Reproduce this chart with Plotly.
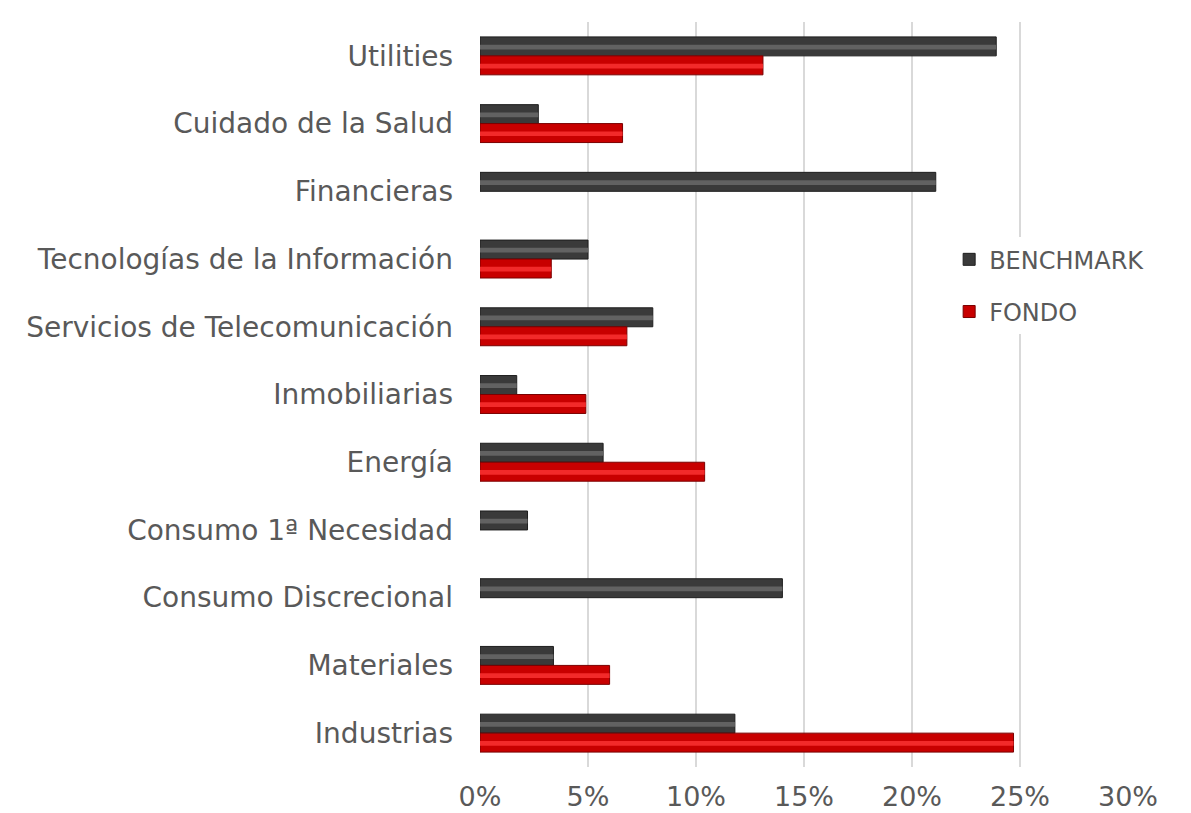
import plotly.graph_objects as go

categories = ["Industrias", "Materiales", "Consumo Discrecional", "Consumo 1ª Necesidad",
              "Energía", "Inmobiliarias", "Servicios de Telecomunicación",
              "Tecnologías de la Información", "Financieras", "Cuidado de la Salud", "Utilities"]
benchmark = [0.118, 0.034, 0.140, 0.022, 0.057, 0.017, 0.080, 0.050, 0.211, 0.027, 0.239]
fondo = [0.247, 0.060, None, None, 0.104, 0.049, 0.068, 0.033, None, 0.066, 0.131]

W = 0.28
fig = go.Figure()
fig.add_trace(go.Bar(y=categories, x=benchmark, orientation="h", name="BENCHMARK", legendgroup="b",
                     width=W, offset=0,
                     marker=dict(color="#3a3a3a", line=dict(color="#1e1e1e", width=1))))
fig.add_trace(go.Bar(y=categories, x=fondo, orientation="h", name="FONDO", legendgroup="f",
                     width=W, offset=-W,
                     marker=dict(color="#c80000", line=dict(color="#7a0000", width=1))))
# bevel highlight stripes
fig.add_trace(go.Bar(y=categories, x=benchmark, orientation="h", showlegend=False, hoverinfo="skip",
                     width=0.07, offset=0.095,
                     marker=dict(color="#626262", line=dict(width=0))))
fig.add_trace(go.Bar(y=categories, x=fondo, orientation="h", showlegend=False, hoverinfo="skip",
                     width=0.07, offset=-W + 0.095,
                     marker=dict(color="#f22a2a", line=dict(width=0))))

fig.update_layout(
    width=1183, height=805,
    barmode="overlay",
    paper_bgcolor="white", plot_bgcolor="white",
    margin=dict(l=472, r=63, t=14, b=46, autoexpand=False),
    font=dict(family="DejaVu Sans", color="#595959"),
    xaxis=dict(range=[0, 0.30], tickvals=[0, 0.05, 0.10, 0.15, 0.20, 0.25, 0.30],
               tickformat=".0%", showgrid=True, gridcolor="#d9d9d9", gridwidth=1.5,
               zeroline=False, showline=False, tickfont=dict(size=27),
               ticklabelstandoff=11, fixedrange=True, automargin=False),
    yaxis=dict(showgrid=False, zeroline=False, showline=False,
               tickfont=dict(size=28), ticklabelstandoff=26,
               range=[-0.5, 10.5], automargin=False),
    legend=dict(x=0.724, y=0.646, xanchor="left", yanchor="middle",
                traceorder="grouped", bgcolor="white",
                font=dict(size=24, color="#595959"), itemwidth=30,
                tracegroupgap=18),
    showlegend=True,
)

fig.write_html("out.html")
